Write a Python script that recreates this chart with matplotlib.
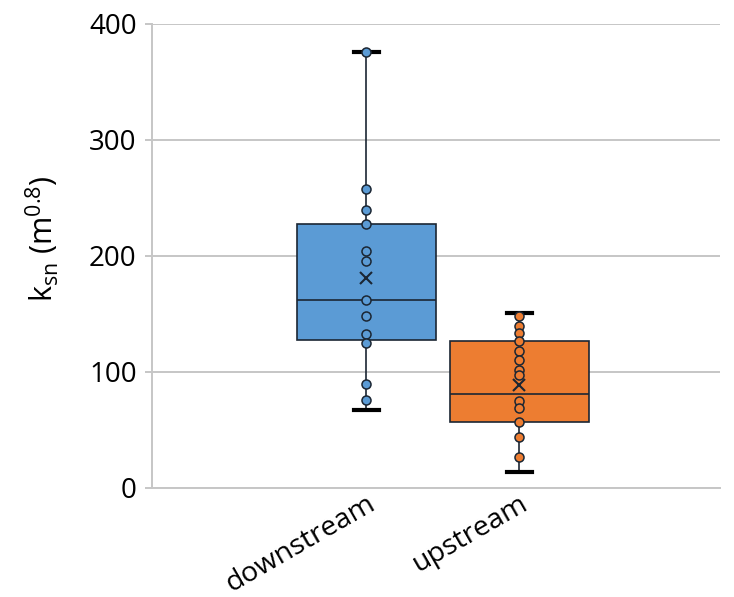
import matplotlib.pyplot as plt
from matplotlib.transforms import ScaledTranslation

# Box statistics and the individual points of each reach (k_sn, m^0.8)
categories = ["downstream", "upstream"]
colors = ["#5B9BD5", "#ED7D31"]
whisker_lo = [67, 14]
q1 = [128, 57]
median = [162, 81]
q3 = [228, 127]
whisker_hi = [376, 151]
mean = [181, 89]
points = [
    [376, 258, 240, 228, 204, 196, 162, 148, 133, 125, 90, 76],
    [148, 140, 134, 127, 118, 110, 102, 97, 75, 69, 57, 44, 27],
]

plt.rcParams['font.family'] = ['Open Sans', 'DejaVu Sans']
plt.rcParams['mathtext.fontset'] = 'custom'
plt.rcParams['mathtext.rm'] = 'Open Sans'

fig = plt.figure(figsize=(7.34, 5.97), dpi=100)
ax = fig.add_axes([0.2071, 0.1826, 0.7739, 0.7772])

edge = "#1b2633"
positions = [1, 2]
stats = []
for i, name in enumerate(categories):
    stats.append(dict(label=name, whislo=whisker_lo[i], q1=q1[i], med=median[i],
                      q3=q3[i], whishi=whisker_hi[i], mean=mean[i], fliers=[]))

bp = ax.bxp(stats, positions=positions, widths=0.91, capwidths=0.16,
            patch_artist=True, showmeans=True, zorder=3,
            boxprops=dict(edgecolor=edge, linewidth=1.2),
            medianprops=dict(color=edge, linewidth=1.2),
            whiskerprops=dict(color=edge, linewidth=1.2),
            capprops=dict(color="black", linewidth=3),
            meanprops=dict(marker="x", markeredgecolor=edge, markersize=9,
                           markeredgewidth=1.5))
for patch, c in zip(bp['boxes'], colors):
    patch.set_facecolor(c)

# inner points
for pos, vals, c in zip(positions, points, colors):
    ax.plot([pos] * len(vals), vals, ls="none", marker="o", markersize=6.5,
            markerfacecolor=c, markeredgecolor=edge, markeredgewidth=1.1,
            zorder=4)

ax.set_xlim(-0.40, 3.31)
ax.set_ylim(0, 400)
ax.set_yticks([0, 100, 200, 300, 400])
ax.yaxis.grid(True, color="#c6c6c6", linewidth=1.4, zorder=0)
ax.set_axisbelow(True)

ax.set_xticks(positions)
ax.set_xticklabels(categories, rotation=30, ha="right", va="top",
                   rotation_mode="anchor", fontsize=20.5)
shift = ScaledTranslation(0.12, 0, fig.dpi_scale_trans)
for lbl in ax.get_xticklabels():
    lbl.set_transform(lbl.get_transform() + shift)
ax.tick_params(axis="x", length=0, pad=1)
ax.tick_params(axis="y", labelsize=20, length=5, color="#c6c6c6", width=1.4, pad=6)

for s in ["top", "right"]:
    ax.spines[s].set_visible(False)
ax.spines["left"].set_color("#c6c6c6")
ax.spines["left"].set_linewidth(1.4)
ax.spines["bottom"].set_color("#c6c6c6")
ax.spines["bottom"].set_linewidth(1.4)

ax.set_ylabel(r"k$_{\mathregular{sn}}$ (m$^{\mathregular{0.8}}$)", fontsize=22)
ax.yaxis.set_label_coords(-0.16, 0.537)

fig.savefig("out.png", dpi=100, facecolor="white")
